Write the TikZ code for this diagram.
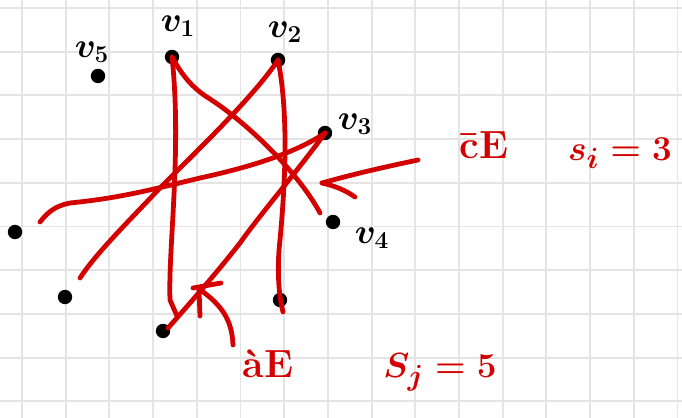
\documentclass[tikz,border=0pt]{standalone}
\usetikzlibrary{calc}
\definecolor{pen}{RGB}{212,0,0}
\definecolor{gridc}{RGB}{228,228,228}
\begin{document}
\begin{tikzpicture}[x=0.025cm,y=-0.025cm,
  dot/.style={circle,fill=black,inner sep=0pt,minimum size=0.36cm},
  edge/.style={draw=pen,line width=3.4pt,line cap=round,line join=round},
  lab/.style={font=\fontsize{27}{30}\selectfont\boldmath,inner sep=0pt},
  rlab/.style={font=\fontsize{28}{32}\selectfont\bfseries\boldmath,text=pen,inner sep=0pt}]
\useasboundingbox (0,0) rectangle (682,418);
\fill[white] (0,0) rectangle (682,418);
% grid paper
\foreach \k in {0,...,15} \draw[gridc,line width=1.4pt] ({22+43.7*\k},0) -- ({22+43.7*\k},418);
\foreach \k in {0,...,9} \draw[gridc,line width=1.4pt] (0,{8+43.7*\k}) -- (682,{8+43.7*\k});
% vertices
\node[dot] (v1) at (172,57) {};
\node[dot] (v2) at (278,60) {};
\node[dot] (v3) at (325,133) {};
\node[dot] (v4) at (333,222) {};
\node[dot] (v5) at (98,76) {};
\node[dot] (a) at (15,232) {};
\node[dot] (b) at (65,297) {};
\node[dot] (c) at (163,331) {};
\node[dot] (d) at (280,300) {};
% vertex labels
\node[lab] (l5) at (92,52) {$v_5$};
\node[lab] (l1) at (178,26) {$v_1$};
\node[lab] (l2) at (285,32) {$v_2$};
\node[lab] (l3) at (355,124) {$v_3$};
\node[lab] (l4) at (372,238) {$v_4$};
% red edges
\coordinate (j1) at (177,316);
\path[edge] (v1.center) .. controls (182,150) and (168,250) .. (170,300) -- (j1);
\coordinate (e4) at (320,213);
\path[edge] (v1.center) .. controls (182,75) and (192,88) .. (210,99) .. controls (250,125) and (300,175) .. (e4);
\coordinate (eb) at (80,278);
\path[edge] (v2.center) .. controls (255,95) and (200,148) .. (160,188) .. controls (122,228) and (95,255) .. (eb);
\coordinate (ed) at (283,312);
\path[edge] (v2.center) .. controls (290,120) and (284,200) .. (279,250) .. controls (277,280) and (280,300) .. (ed);
\coordinate (ea) at (40,222);
\path[edge] (v3.center) .. controls (300,150) and (260,165) .. (200,178) .. controls (150,190) and (120,198) .. (70,203) .. controls (55,206) and (48,212) .. (ea);
\coordinate (ec) at (168,328);
\path[edge] (v3.center) .. controls (300,168) and (262,212) .. (240,243) .. controls (222,266) and (200,292) .. (ec);
% arrows
\coordinate (t1) at (322,183);
\coordinate (s1) at (418,160);
\path[edge] (s1) .. controls (380,168) and (350,175) .. (t1);
\coordinate (bb1) at (355,197);
\path[edge] (t1) .. controls (335,186) and (345,190) .. (bb1);
\coordinate (t2) at (199,289);
\coordinate (s2) at (233,345);
\path[edge] (s2) .. controls (232,320) and (222,305) .. (t2);
\coordinate (h1) at (193,288);
\coordinate (h2) at (221,283);
\path[edge] (h1) -- (h2);
\coordinate (h3) at (200,316);
\path[edge] (t2) -- (h3);
% red texts
\node[rlab] (ce) at (484,145) {\=cE};
\node[rlab] (si) at (620,153) {$s_i = 3$};
\node[rlab] (ae) at (268,364) {\`aE};
\node[rlab] (sj) at (440,372) {$S_j = 5$};
\end{tikzpicture}
\end{document}
